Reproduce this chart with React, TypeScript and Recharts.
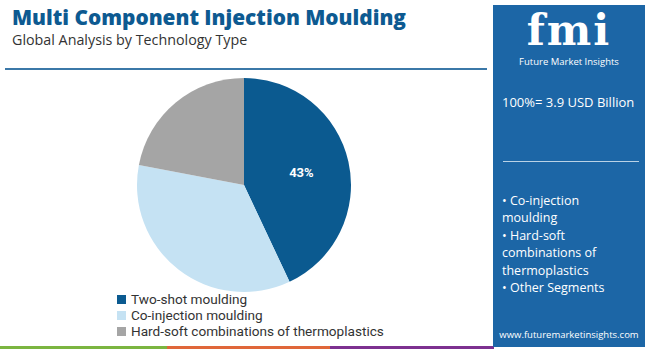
import React from 'react';
import { PieChart, Pie, Cell } from 'recharts';

const categories = ['Two-shot moulding', 'Co-injection moulding', 'Hard-soft combinations of thermoplastics'];
const shares = [43, 35, 22];
const colors = ['#0b5a90', '#c5e2f3', '#a5a5a5'];
const labelIndex = 0;
const panelLines = ['• Co-injection', 'moulding', '• Hard-soft', 'combinations of', 'thermoplastics', '• Other Segments'];

const data = categories.map((name, i) => ({ name, value: shares[i] }));

const RAD = Math.PI / 180;
const renderLabel = (p: any) => {
  if (p.index !== labelIndex) return null;
  const r = p.outerRadius * 0.55;
  const x = p.cx + r * Math.cos(-p.midAngle * RAD);
  const y = p.cy + r * Math.sin(-p.midAngle * RAD);
  return (
    <text x={x} y={y} fill="#ffffff" fontSize={13} fontWeight={700} fontFamily="Roboto, Arial, sans-serif" textAnchor="middle" dominantBaseline="central">
      {`${p.value}%`}
    </text>
  );
};

export default function App() {
  return (
    <div style={{ position: 'absolute', left: 0, top: 0, width: 650, height: 351, background: '#fff', overflow: 'hidden', fontFamily: '"Open Sans", Lato, sans-serif' }}>
      <div style={{ position: 'absolute', left: 12, top: 3, fontSize: 20.8, fontWeight: 800, color: '#0d5a91', whiteSpace: 'nowrap' }}>
        Multi Component Injection Moulding
      </div>
      <div style={{ position: 'absolute', left: 12, top: 30, fontSize: 14.3, color: '#333', whiteSpace: 'nowrap' }}>
        Global Analysis by Technology Type
      </div>
      <div style={{ position: 'absolute', left: 5, top: 68, width: 482, height: 2, background: '#3b78a8' }} />

      <div style={{ position: 'absolute', left: 0, top: 0 }}>
        <PieChart width={490} height={345} margin={{ top: 0, right: 0, bottom: 0, left: 0 }}>
          <Pie
            data={data}
            dataKey="value"
            nameKey="name"
            cx={244}
            cy={185}
            outerRadius={107}
            startAngle={90}
            endAngle={-270}
            stroke="none"
            label={renderLabel}
            labelLine={false}
            isAnimationActive={false}
          >
            {data.map((d, i) => (
              <Cell key={d.name} fill={colors[i]} />
            ))}
          </Pie>
        </PieChart>
      </div>

      <div style={{ position: 'absolute', left: 117, top: 291, fontFamily: 'Roboto, sans-serif' }}>
        {data.map((d, i) => (
          <div key={d.name} style={{ display: 'flex', alignItems: 'center', height: 16, lineHeight: '16px', fontSize: 13.6, color: '#333', whiteSpace: 'nowrap' }}>
            <span style={{ width: 9, height: 9, background: colors[i], marginRight: 5, display: 'inline-block' }} />
            <span style={{ lineHeight: '16px' }}>{d.name}</span>
          </div>
        ))}
      </div>

      <div style={{ position: 'absolute', left: 0, top: 346, width: 167, height: 3, background: '#7bb540' }} />
      <div style={{ position: 'absolute', left: 167, top: 346, width: 163, height: 3, background: '#e0673a' }} />
      <div style={{ position: 'absolute', left: 330, top: 346, width: 164, height: 3, background: '#7d3190' }} />

      <div style={{ position: 'absolute', left: 493, top: 5, width: 152, height: 342, background: '#1c66a6', color: '#fff' }}>
        <div style={{ position: 'absolute', left: 0, width: 152, top: 4, textAlign: 'center', fontFamily: '"DejaVu Serif", serif', fontWeight: 700, fontSize: 42, lineHeight: '44px', letterSpacing: 2 }}>
          fmi
        </div>
        <div style={{ position: 'absolute', left: 0, width: 152, top: 51, textAlign: 'center', fontSize: 9.5, lineHeight: '12px' }}>
          Future Market Insights
        </div>
        <div style={{ position: 'absolute', left: 9, top: 88, fontSize: 13, whiteSpace: 'nowrap' }}>
          100%= 3.9 USD Billion
        </div>
        <div style={{ position: 'absolute', left: 10, top: 156, width: 136, height: 1, background: '#b9d2e6' }} />
        <div style={{ position: 'absolute', left: 9, top: 187, width: 140, fontSize: 12.5, lineHeight: '17.4px' }}>
          {panelLines.map((b) => (
            <div key={b} style={{ whiteSpace: 'nowrap', height: 17.4 }}>{b}</div>
          ))}
        </div>
        <div style={{ position: 'absolute', left: 0, width: 152, top: 324, textAlign: 'center', fontSize: 9.5, lineHeight: '12px' }}>
          www.futuremarketinsights.com
        </div>
      </div>
    </div>
  );
}
